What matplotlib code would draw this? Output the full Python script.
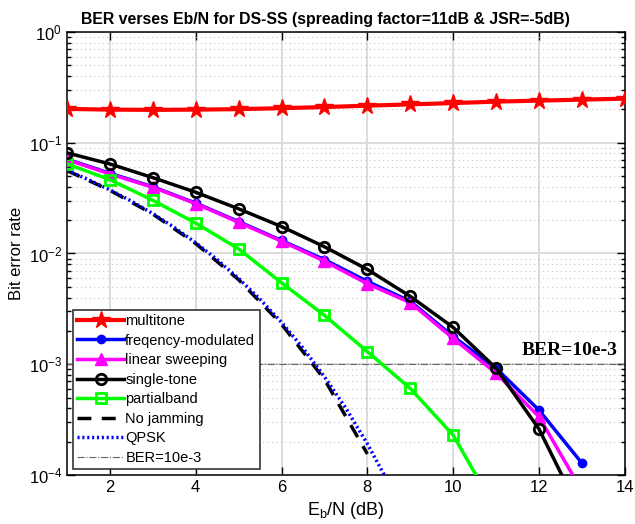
import matplotlib
matplotlib.use('Agg')
import matplotlib.pyplot as plt
import numpy as np
from matplotlib.ticker import LogLocator, NullFormatter

plt.rcParams['font.family'] = ['Liberation Sans', 'DejaVu Sans']
plt.rcParams['mathtext.fontset'] = 'custom'
plt.rcParams['mathtext.rm'] = 'Liberation Sans'
plt.rcParams['mathtext.it'] = 'Liberation Sans'

# data
ebn = [1, 2, 3, 4, 5, 6, 7, 8, 9, 10, 11, 12, 13, 14]
multitone = [0.202, 0.199, 0.198, 0.199, 0.201, 0.205, 0.210, 0.216, 0.222,
             0.228, 0.235, 0.240, 0.245, 0.250]

ebn13 = [1, 2, 3, 4, 5, 6, 7, 8, 9, 10, 11, 12, 13]
freq_mod = [0.071, 0.053, 0.0400, 0.0285, 0.0194, 0.0131, 0.0088, 0.0056,
            0.0037, 0.00178, 0.00092, 0.000385, 0.000128]
linear_sweep = [0.0703, 0.0522, 0.0396, 0.0282, 0.0191, 0.0129, 0.00853,
                0.00533, 0.0036, 0.00171, 0.00083, 0.000335, 0.000072]
single_tone = [0.081, 0.0643, 0.0484, 0.0357, 0.0253, 0.0175, 0.0115,
               0.00718, 0.0041, 0.00215, 0.00092, 0.00026, 0.000043]

ebn11 = [1, 2, 3, 4, 5, 6, 7, 8, 9, 10, 11]
partialband = [0.0643, 0.0464, 0.0302, 0.0188, 0.0110, 0.00544, 0.00276,
               0.0013, 0.000604, 0.000229, 0.000048]

ebn_nj = [1, 2, 3, 4, 5, 6, 7, 8]
no_jamming = [0.056, 0.0372, 0.0227, 0.0123, 0.0058, 0.0023, 0.00073, 0.000155]

ebn_q = [1, 1.5, 2, 2.5, 3, 3.5, 4, 4.5, 5, 5.5, 6, 6.5, 7, 7.5, 8, 8.5, 9]
qpsk = [0.0563, 0.0464, 0.0375, 0.0297, 0.0229, 0.0172, 0.0125, 0.00879,
        0.00595, 0.00386, 0.00239, 0.0014, 0.00077, 0.0004, 0.000191,
        0.000084, 0.000034]

ber_ref = 1e-3

fig = plt.figure(figsize=(6.35, 5.24), dpi=100)
ax = fig.add_axes([0.1055, 0.0935, 0.8785, 0.8455])

ax.semilogy(ebn, multitone, color='red', lw=3, marker='*', ms=13,
            label='multitone', zorder=5)
ax.semilogy(ebn13, freq_mod, color='blue', lw=2.5, marker='o', ms=6,
            label='freqency-modulated', zorder=4)
ax.semilogy(ebn13, linear_sweep, color='magenta', lw=2.5, marker='^', ms=9,
            label='linear sweeping', zorder=4)
ax.semilogy(ebn13, single_tone, color='black', lw=2.5, marker='o', ms=7.5,
            mfc='none', mew=2, label='single-tone', zorder=5)
ax.semilogy(ebn11, partialband, color='#00ff00', lw=2.5, marker='s', ms=6.5,
            mfc='none', mew=2, label='partialband', zorder=4)
ax.semilogy(ebn_nj, no_jamming, color='black', lw=2.5, ls=(0, (4, 3)),
            label='No jamming', zorder=3)
ax.semilogy(ebn_q, qpsk, color='blue', lw=2.5, ls=(0, (0.6, 0.8)),
            label='QPSK', zorder=3)
ax.semilogy([1, 14], [ber_ref, ber_ref], color='#666666', lw=0.8,
            ls='-.', label='BER=10e-3', zorder=2)

ax.text(11.6, 1.12e-3, 'BER=10e-3', family='Liberation Serif',
        fontweight='bold', fontsize=14, ha='left', va='bottom')

ax.set_xlim(1, 14)
ax.set_ylim(1e-4, 1)
ax.set_xticks([2, 4, 6, 8, 10, 12, 14])
ax.yaxis.set_major_locator(LogLocator(base=10, numticks=10))
ax.yaxis.set_minor_locator(LogLocator(base=10, subs=np.arange(2, 10), numticks=10))
ax.yaxis.set_minor_formatter(NullFormatter())

ax.grid(True, which='major', color='#dcdcdc', lw=1.4, ls='-')
ax.grid(True, which='minor', axis='y', color='#c8c8c8', lw=0.8, ls=(0, (1, 3)))
ax.set_axisbelow(True)
ax.tick_params(which='both', direction='in', top=True, right=True,
               labelsize=12, width=1)
ax.tick_params(which='major', length=6)
ax.tick_params(which='minor', length=3)
for s in ax.spines.values():
    s.set_linewidth(1.1)

fig.text(0.512, 0.962, 'BER verses Eb/N for DS-SS (spreading factor=11dB & JSR=-5dB)',
         fontsize=11.4, fontweight='bold', ha='center', va='center')
ax.set_xlabel(r'E$_b$/N (dB)', fontsize=13, labelpad=4)
ax.set_ylabel('Bit error rate', fontsize=12, labelpad=3)

leg = ax.legend(loc='lower left', fontsize=10.5, handlelength=3.2,
                handletextpad=0.1, labelspacing=0.38, borderpad=0.3,
                borderaxespad=0.4, fancybox=False, framealpha=1,
                edgecolor='#333333')
leg.get_frame().set_linewidth(1.2)

fig.savefig('out.png', dpi=100)
